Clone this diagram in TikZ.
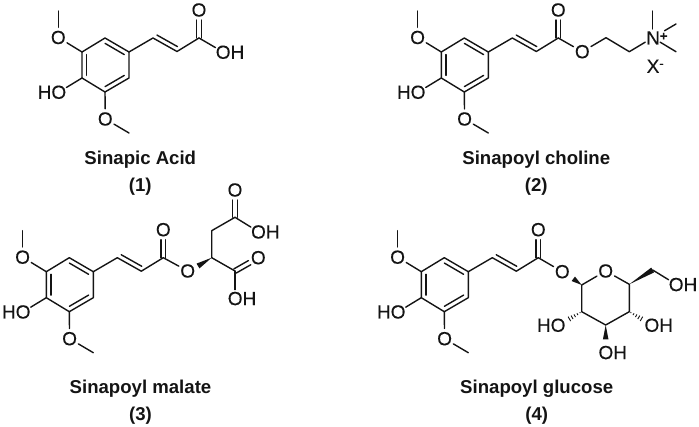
\documentclass[tikz,border=0pt]{standalone}
\usepackage{fontspec}
\setmainfont{Liberation Sans}
\newfontfamily\atomfont[FakeBold=0.25]{Liberation Sans}
\usetikzlibrary{calc}
\definecolor{ink}{HTML}{141414}
\tikzset{
  bond/.style={line width=1.4pt,draw=ink,line cap=round,line join=round},
  lbl/.style={inner sep=0pt,text=ink,font=\atomfont\fontsize{19}{20}\selectfont},
  hole/.style={circle,inner sep=0pt,minimum size=17pt},
  atomlbl/.style={lbl,text height=13.6pt,text depth=0pt},
  titlelbl/.style={anchor=base,inner sep=0pt,text=ink,font=\fontsize{18.6}{20}\selectfont\bfseries},
}
% plain atom with a clipping circle of its own
\newcommand{\chematom}[4]{\node[hole,text=ink,font=\atomfont\fontsize{19}{20}\selectfont] (#1) at (#2,#3) {#4};}
% hydroxyl: the circle (name) stands on the O of the text
\newcommand{\chemoh}[3]{\node[hole] (#1) at (#2,#3) {};\node[atomlbl,anchor=west] (#1t) at ([xshift=-7.4pt]#1.center) {OH};}
\newcommand{\chemho}[3]{\node[hole] (#1) at (#2,#3) {};\node[atomlbl,anchor=east] (#1t) at ([xshift=7.4pt]#1.center) {HO};}
% C=X double bond (second stroke offset both ways)
\newcommand{\dblO}[2]{%
  \draw[bond,shorten >=10pt] ($(#1)!2.4pt!90:(#2)$) -- ($(#2)!2.4pt!-90:(#1)$);
  \draw[bond,shorten >=10pt] ($(#1)!2.4pt!-90:(#2)$) -- ($(#2)!2.4pt!90:(#1)$);}
\newcommand{\wedgebond}[2]{\fill[ink] (#1) -- ($(#2)!2.8pt!90:(#1)$) -- ($(#2)!2.8pt!-90:(#1)$) -- cycle;}
\newcommand{\hashbond}[2]{\foreach \t/\w in {.12/.5pt,.32/1pt,.52/1.5pt,.72/2pt,.92/2.5pt}{%
  \draw[ink,line width=.9pt] ($(#1)!\t!(#2)!\w!90:(#2)$) -- ($(#1)!\t!(#2)!\w!-90:(#2)$);}}
% the sinapoyl fragment, up to the carbonyl carbon #1c
\newcommand{\sinapoyl}[3]{%
\begin{scope}[shift={(#2,#3)}]
  \coordinate (#1r1) at (105,38);
  \coordinate (#1r2) at (129,52);
  \coordinate (#1r3) at (129,78);
  \coordinate (#1r4) at (105,92);
  \coordinate (#1r5) at (82,78);
  \coordinate (#1r6) at (82,52);
  \coordinate (#1m) at (105.5,65);
  \coordinate (#1v1) at (153,38);
  \coordinate (#1v2) at (177,51.5);
  \coordinate (#1c) at (199,38);
  \coordinate (#1me1) at (58.3,11);
  \coordinate (#1me2) at (129,133);
  \chematom{#1oa}{58.3}{37.5}{O}
  \chematom{#1ob}{105.3}{119}{O}
  \chematom{#1oc}{199}{10}{O}
  \chemho{#1oh}{59}{92}
\end{scope}
\draw[bond] (#1r1) -- (#1r2) -- (#1r3) -- (#1r4) -- (#1r5) -- (#1r6) -- cycle;
\draw[bond] ($(#1r1)!.2!(#1m)$) -- ($(#1r2)!.2!(#1m)$);
\draw[bond] ($(#1r3)!.2!(#1m)$) -- ($(#1r4)!.2!(#1m)$);
\draw[bond] ($(#1r5)!.2!(#1m)$) -- ($(#1r6)!.2!(#1m)$);
\draw[bond] (#1r6) -- (#1oa);
\draw[bond] (#1oa) -- (#1me1);
\draw[bond] (#1r5) -- (#1oh);
\draw[bond] (#1r4) -- (#1ob);
\draw[bond] (#1ob) -- (#1me2);
\draw[bond] (#1r2) -- (#1v1) -- (#1v2) -- (#1c);
\draw[bond,shorten <=2pt,shorten >=2pt] ($(#1v1)!4.5pt!90:(#1v2)$) -- ($(#1v2)!4.5pt!-90:(#1v1)$);
\dblO{#1c}{#1oc}
}
\begin{document}
\begin{tikzpicture}[x=1pt,y=-1pt]
\useasboundingbox (0,0) rectangle (699,427);
% ---------- 1
\sinapoyl{a}{0}{0}
\chemoh{aoh2}{223}{52}
\draw[bond] (ac) -- (aoh2);
\node[titlelbl] (t1) at (140.3,165) {Sinapic Acid};
\node[titlelbl] (n1) at (140.3,192) {(1)};
% ---------- 2
\sinapoyl{b}{359.3}{0}
\chematom{boe}{582.3}{51.7}{O}
\coordinate (bc1) at (606,37.7);
\coordinate (bc2) at (629.3,51.7);
\node[hole] (bn) at (652.7,37.7) {};
\node[atomlbl,anchor=west] (bnt) at (646,37.7) {N\raisebox{4pt}{\fontsize{13}{13}\selectfont\bfseries +}};
\coordinate (bm1) at (652.7,11);
\coordinate (bm2) at (676,24);
\coordinate (bm3) at (676,51.7);
\draw[bond] (bc) -- (boe);
\draw[bond] (boe) -- (bc1) -- (bc2) -- (bn);
\draw[bond] (bn) -- (bm1);
\draw[bond,shorten <=5pt] (bn) -- (bm2);
\draw[bond] (bn) -- (bm3);
\node[atomlbl,anchor=west] (bx) at (646.5,66) {X\raisebox{5pt}{\fontsize{13}{13}\selectfont -}};
\node[titlelbl] (t2) at (536.3,165) {Sinapoyl choline};
\node[titlelbl] (n2) at (536.3,192) {(2)};
% ---------- 3
\sinapoyl{c}{-35.7}{219.7}
\chematom{coe}{187.7}{271}{O}
\coordinate (cs) at (211.7,257.7);
\coordinate (cw) at (198,266);
\coordinate (cch) at (211.7,230.7);
\coordinate (cc1) at (235,217.3);
\coordinate (cc2) at (235,271);
\chematom{co1}{235}{190}{O}
\chematom{co2}{258.3}{257.7}{O}
\chemoh{coh1}{258.3}{231.7}
\chemoh{coh2}{235}{298.3}
\draw[bond] (cc) -- (coe);
\wedgebond{cs}{cw}
\draw[bond] (cs) -- (cch) -- (cc1);
\draw[bond] (cs) -- (cc2);
\dblO{cc1}{co1}
\dblO{cc2}{co2}
\draw[bond] (cc1) -- (coh1);
\draw[bond] (cc2) -- (coh2);
\node[titlelbl] (t3) at (140.5,394) {Sinapoyl malate};
\node[titlelbl] (n3) at (140.5,420.5) {(3)};
% ---------- 4
\sinapoyl{d}{339.3}{219.7}
\chematom{doe}{562.3}{271.7}{O}
\chematom{dor}{605.7}{271}{O}
\coordinate (d1) at (581.7,285);
\coordinate (d2) at (581.7,311.7);
\coordinate (d3) at (605.7,325);
\coordinate (d4) at (629.3,311.7);
\coordinate (d5) at (629.3,284.3);
\coordinate (d6) at (652.7,270);
\coordinate (dw1) at (573.3,278.8);
\coordinate (dw3) at (605.7,339.5);
\coordinate (dh2) at (568.3,319.5);
\coordinate (dh4) at (642.5,319.5);
\chemho{dho}{558.3}{325}
\chemoh{doh4}{651.7}{325}
\chemoh{doh3}{605.7}{352.3}
\chemoh{doh6}{676}{284.3}
\draw[bond] (dc) -- (doe);
\draw[bond] (dor) -- (d1) -- (d2) -- (d3) -- (d4) -- (d5) -- (dor);
\wedgebond{d1}{dw1}
\wedgebond{d5}{d6}
\wedgebond{d3}{dw3}
\hashbond{d2}{dh2}
\hashbond{d4}{dh4}
\draw[bond] (d6) -- (doh6);
\node[titlelbl] (t4) at (536.7,394) {Sinapoyl glucose};
\node[titlelbl] (n4) at (536.7,420.5) {(4)};
\end{tikzpicture}
\end{document}
